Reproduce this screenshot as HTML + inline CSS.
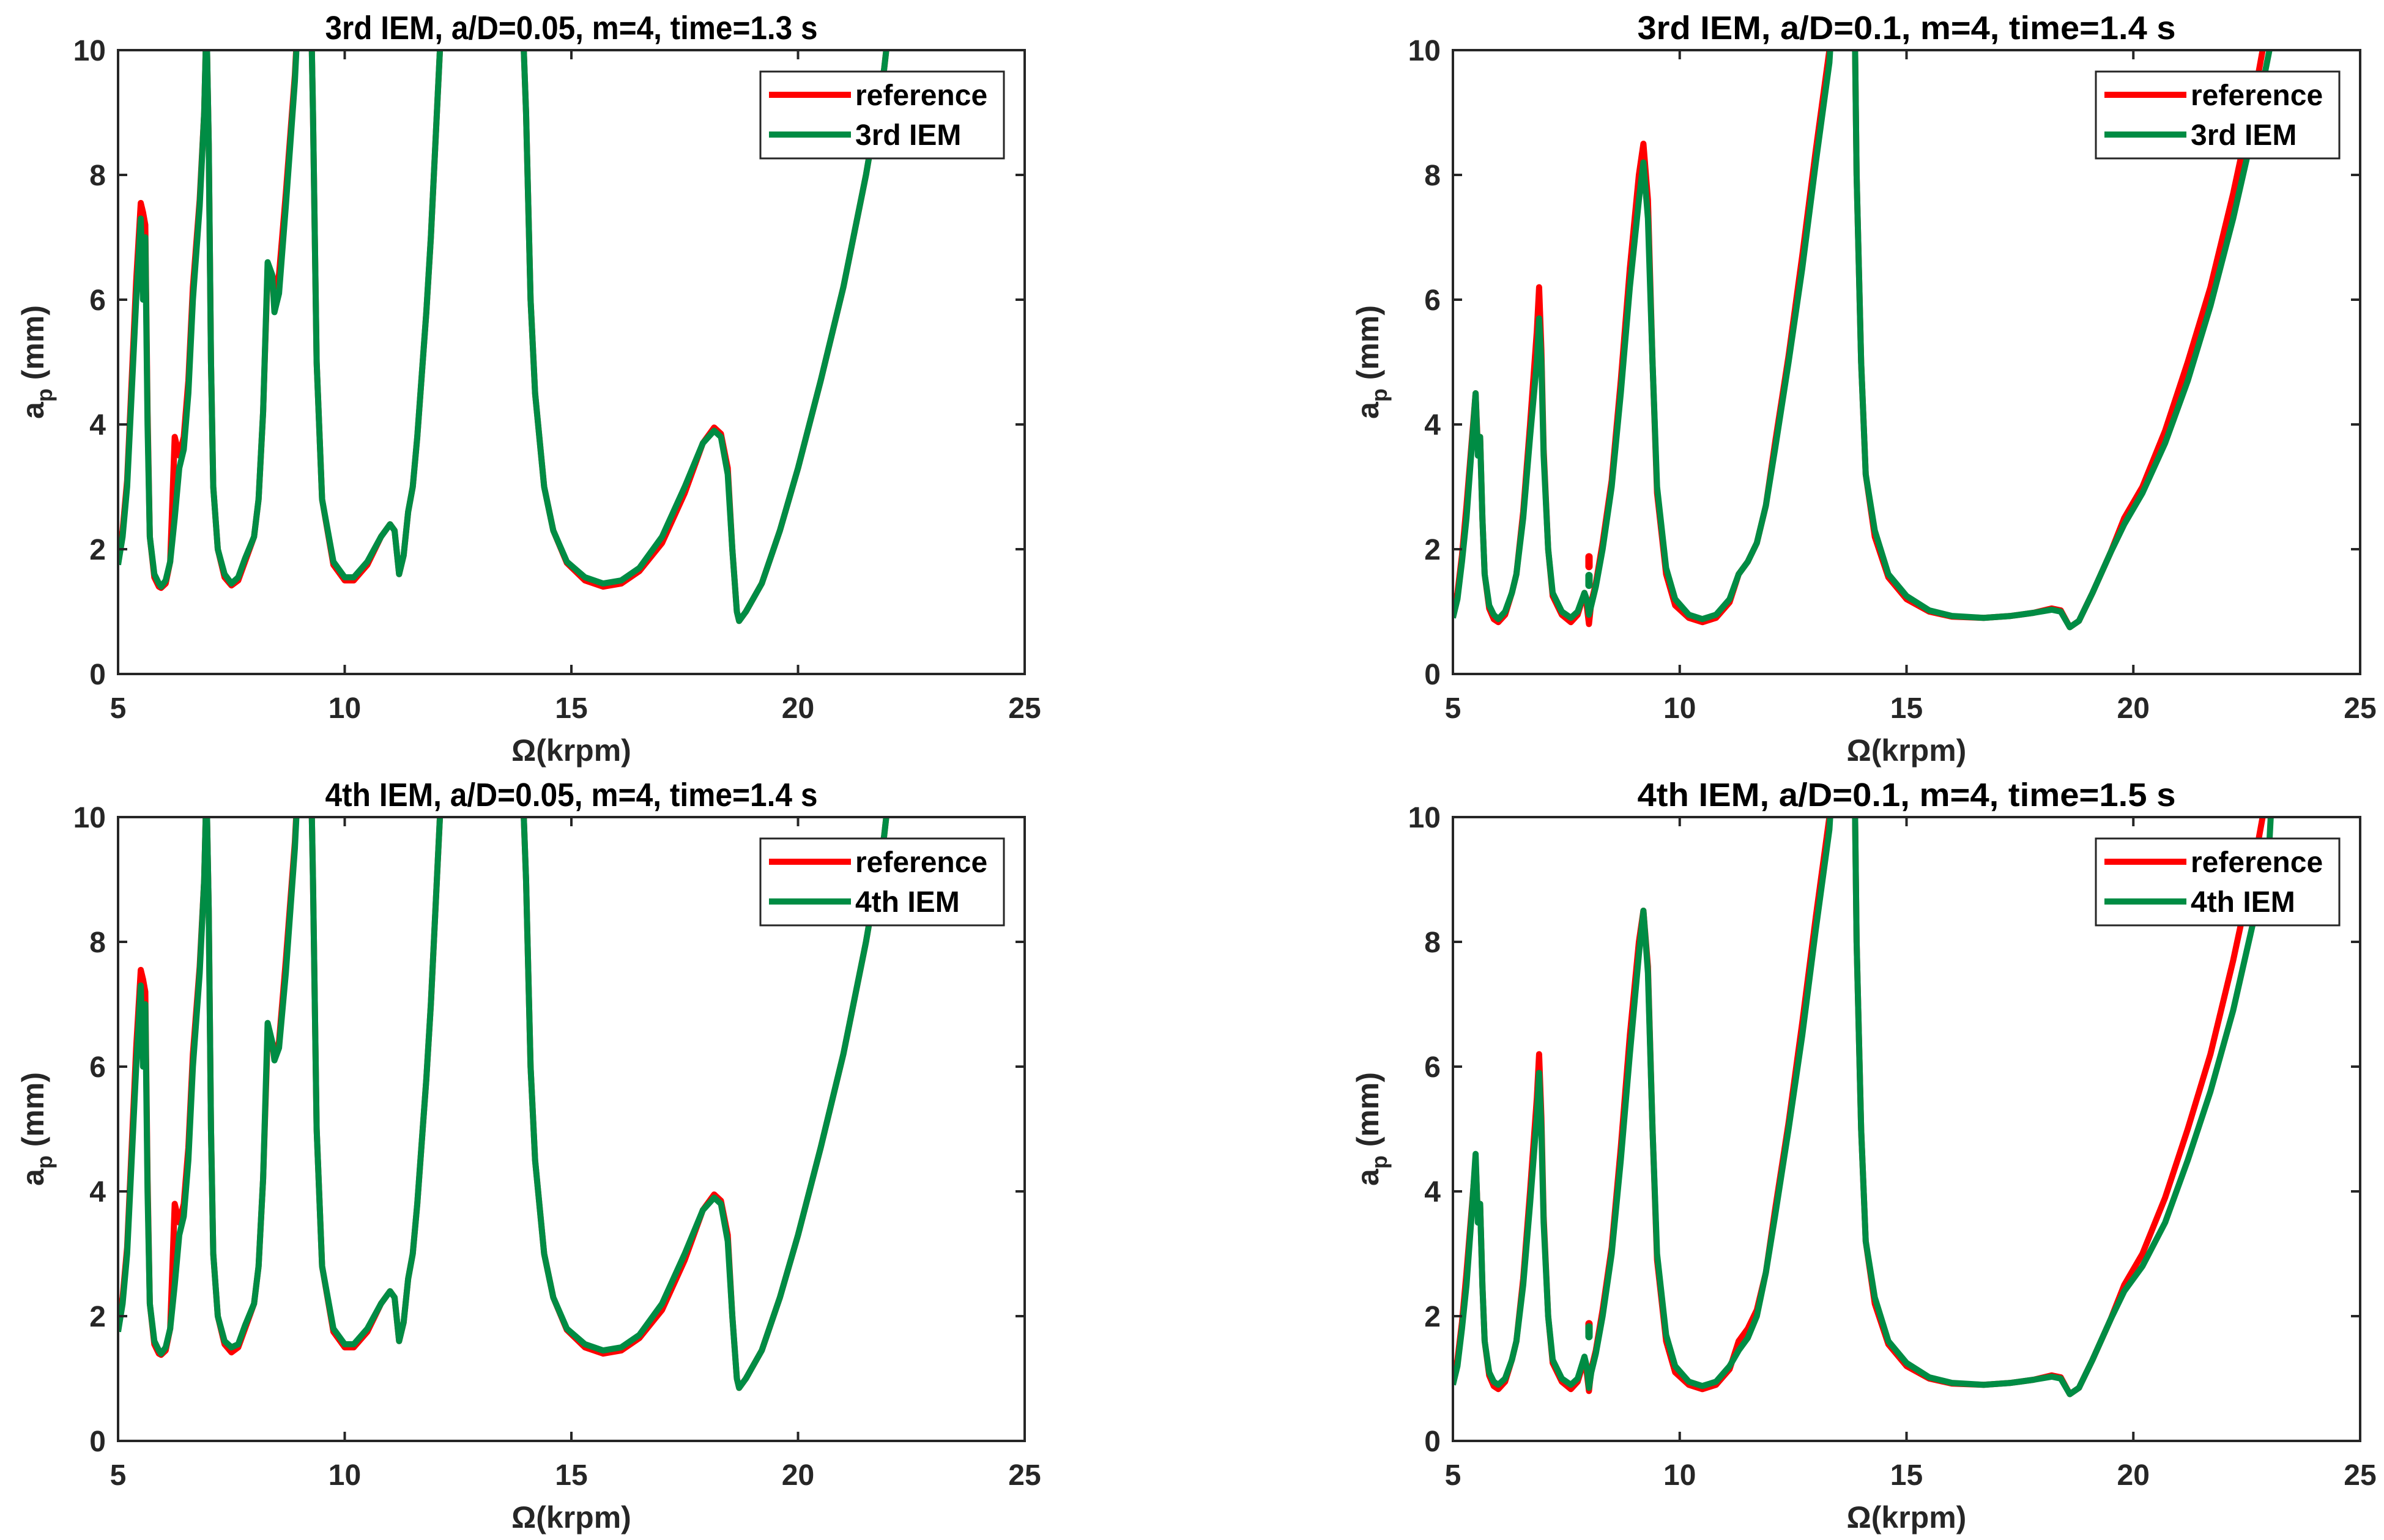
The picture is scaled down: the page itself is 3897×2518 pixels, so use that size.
<!DOCTYPE html>
<html><head><meta charset="utf-8"><style>
html,body{margin:0;padding:0;background:#fff;}
svg{display:block;font-family:"Liberation Sans",sans-serif;font-weight:bold;}
</style></head>
<body>
<svg id="fig" width="3897" height="2518" viewBox="0 0 3897 2518" xmlns="http://www.w3.org/2000/svg"></svg>
<script>
// ---- data (x in krpm, y in mm) ----
const xTicks = [5, 10, 15, 20, 25];
const yTicks = [0, 2, 4, 6, 8, 10];

const xA = [5.0,5.1,5.2,5.3,5.4,5.5,5.55,5.6,5.65,5.7,5.8,5.9,5.95,6.05,6.15,6.25,6.35,6.45,6.55,6.65,6.8,6.9,6.95,7.0,7.05,7.1,7.2,7.35,7.5,7.65,7.8,8.0,8.1,8.2,8.3,8.4,8.45,8.55,8.7,8.9,9.0,
 9.25,9.3,9.38,9.5,9.75,10,10.2,10.5,10.8,11.0,11.1,11.2,11.3,11.4,11.5,11.6,11.7,11.8,11.9,12.0,12.1,12.2,
 13.9,14.0,14.1,14.2,14.4,14.6,14.9,15.3,15.7,16.1,16.5,17,17.5,17.9,18.15,18.3,18.45,18.55,18.65,18.7,18.85,19.2,19.6,20,20.5,21,21.5,21.9,22.1];
const gA3 = [1.75,2.2,3.0,4.5,6.0,7.3,6.0,7.0,4.0,2.2,1.6,1.45,1.4,1.5,1.8,2.5,3.3,3.6,4.5,6.0,7.5,9.0,10.5,8.5,5,3,2.0,1.6,1.45,1.55,1.85,2.2,2.8,4.2,6.6,6.4,5.8,6.1,7.5,9.5,11,
 11,9,5,2.8,1.8,1.55,1.55,1.8,2.2,2.4,2.3,1.6,1.9,2.6,3.0,3.8,4.8,5.8,7,8.5,10,11,
 11,9.0,6,4.5,3.0,2.3,1.8,1.55,1.45,1.5,1.7,2.2,3.0,3.7,3.9,3.8,3.2,2.0,1.0,0.85,1.0,1.45,2.3,3.3,4.7,6.2,8.0,9.7,11];
const rA = [1.85,2.3,3.1,4.7,6.3,7.55,7.4,7.2,4.2,2.2,1.55,1.4,1.38,1.45,1.8,3.8,3.5,3.8,4.7,6.2,7.6,9.0,10.5,8.5,5,3,2.0,1.55,1.42,1.5,1.8,2.2,2.8,4.2,6.5,6.3,6.2,6.4,7.7,9.6,11,
 11,9,5,2.8,1.75,1.5,1.5,1.75,2.2,2.4,2.3,1.6,1.9,2.6,3.0,3.8,4.8,5.8,7,8.5,10,11,
 11,9.0,6,4.5,3.0,2.3,1.78,1.5,1.4,1.45,1.65,2.1,2.9,3.7,3.95,3.85,3.3,2.0,1.0,0.85,1.0,1.45,2.3,3.3,4.7,6.2,8.0,9.7,11];
const gA4 = [1.75,2.2,3.0,4.5,6.0,7.3,6.0,7.0,4.0,2.2,1.6,1.45,1.4,1.5,1.8,2.5,3.3,3.6,4.5,6.0,7.5,9.0,10.5,8.5,5,3,2.0,1.6,1.5,1.55,1.85,2.2,2.8,4.2,6.7,6.4,6.1,6.3,7.5,9.5,11,
 11,9,5,2.8,1.8,1.55,1.55,1.8,2.2,2.4,2.3,1.6,1.9,2.6,3.0,3.8,4.8,5.8,7,8.5,10,11,
 11,9.0,6,4.5,3.0,2.3,1.8,1.55,1.45,1.5,1.7,2.2,3.0,3.7,3.9,3.8,3.2,2.0,1.0,0.85,1.0,1.45,2.3,3.3,4.7,6.2,8.0,9.7,11];

const xB = [5.0,5.1,5.2,5.3,5.4,5.5,5.55,5.6,5.65,5.7,5.8,5.9,6.0,6.15,6.3,6.4,6.55,6.7,6.85,6.9,6.95,7.0,7.1,7.2,7.4,7.6,7.75,7.9,7.95,8.0,8.05,8.15,8.3,8.5,8.7,8.9,9.1,9.2,9.3,9.4,9.5,9.7,9.9,10.2,10.5,10.8,11.1,11.3,11.5,11.7,11.9,12.1,12.4,12.7,13.0,13.3,13.4,
 13.85,13.9,14.0,14.1,14.3,14.6,15.0,15.5,16,16.7,17.3,17.8,18.2,18.4,18.6,18.8,19.1,19.5,19.8,20.2,20.7,21.2,21.7,22.2,22.7,23.0,23.1];
const gB3 = [0.9,1.2,1.8,2.5,3.5,4.5,3.5,3.8,2.5,1.6,1.1,0.95,0.88,1.0,1.3,1.6,2.5,3.8,5.0,5.7,5.0,3.5,2.0,1.3,1.0,0.9,1.0,1.3,1.2,0.95,1.1,1.4,2.0,3.0,4.5,6.2,7.6,8.2,7.3,5,3.0,1.7,1.2,0.95,0.88,0.95,1.2,1.6,1.8,2.1,2.7,3.6,5.0,6.5,8.2,9.8,11,
 11,8,5,3.2,2.3,1.6,1.25,1.02,0.93,0.9,0.93,0.98,1.03,1.0,0.75,0.85,1.3,1.95,2.4,2.9,3.7,4.7,5.9,7.3,8.9,10,11];
const rB = [0.95,1.3,1.9,2.7,3.6,4.5,3.6,3.8,2.5,1.6,1.05,0.88,0.83,0.95,1.3,1.6,2.6,4.0,5.5,6.2,5.2,3.6,2.0,1.25,0.95,0.83,0.95,1.3,1.1,0.8,1.15,1.45,2.1,3.1,4.7,6.5,8.0,8.5,7.6,5,2.9,1.6,1.1,0.9,0.83,0.9,1.15,1.6,1.8,2.1,2.7,3.7,5.1,6.7,8.4,10,11,
 11,8,5,3.2,2.2,1.55,1.2,1.0,0.92,0.9,0.93,0.98,1.05,1.02,0.75,0.85,1.3,1.95,2.5,3.0,3.9,5.0,6.2,7.7,9.4,10.6,11];
const gB4 = [0.9,1.2,1.8,2.5,3.5,4.6,3.5,3.8,2.5,1.6,1.1,0.95,0.9,1.0,1.3,1.6,2.5,3.8,5.2,5.9,5.0,3.5,2.0,1.3,1.0,0.9,1.0,1.35,1.2,0.85,1.1,1.4,2.0,3.0,4.5,6.2,7.8,8.5,7.5,5,3.0,1.7,1.2,0.95,0.88,0.95,1.2,1.45,1.65,2.0,2.7,3.6,5.0,6.5,8.2,9.8,11,
 11,8,5,3.2,2.3,1.6,1.25,1.02,0.93,0.9,0.93,0.98,1.03,1.0,0.75,0.85,1.3,1.95,2.4,2.8,3.5,4.5,5.6,6.9,8.5,9.6,11];
// isolated dots near 8 krpm
const dotX = 8.0;
const dotRB3 = 1.8, dotGB3 = 1.5, dotRB4 = 1.8, dotGB4 = 1.75;

const titles = ["3rd IEM, a/D=0.05, m=4, time=1.3 s","3rd IEM, a/D=0.1, m=4, time=1.4 s","4th IEM, a/D=0.05, m=4, time=1.4 s","4th IEM, a/D=0.1, m=4, time=1.5 s"];
const legendNames = ["3rd IEM","3rd IEM","4th IEM","4th IEM"];

// ---- layout ----
const NS = "http://www.w3.org/2000/svg";
const svg = document.getElementById("fig");
const panels = [
 {L:193,R:1675,T:82,B:1102,x:xA,r:rA,g:gA3,dots:null},
 {L:2375,R:3858,T:82,B:1102,x:xB,r:rB,g:gB3,dots:[dotRB3,dotGB3]},
 {L:193,R:1675,T:1336,B:2356,x:xA,r:rA,g:gA4,dots:null},
 {L:2375,R:3858,T:1336,B:2356,x:xB,r:rB,g:gB4,dots:[dotRB4,dotGB4]}
];
function mk(tag, attrs, parent){const e=document.createElementNS(NS,tag);for(const k in attrs)e.setAttribute(k,attrs[k]);(parent||svg).appendChild(e);return e;}

panels.forEach((p,i)=>{
 const sx=v=>p.L+(v-5)/20*(p.R-p.L);
 const sy=v=>p.B-v/10*(p.B-p.T);
 const g=mk("g",{});
 
 
 const cp=mk("clipPath",{id:"clip"+i},g);
 mk("rect",{x:p.L,y:p.T,width:p.R-p.L,height:p.B-p.T},cp);
 // title
 const t=mk("text",{x:(p.L+p.R)/2,y:p.T-18,"text-anchor":"middle","font-size":54,textLength:(i%2?880:805),lengthAdjust:"spacingAndGlyphs",fill:"#000"},g);
 t.textContent=titles[i];
 
 
 // series
 const path=(ys)=>ys.map((v,k)=>(k?"L":"M")+sx(p.x[k]).toFixed(1)+","+sy(v).toFixed(1)).join("");
 const cg=mk("g",{"clip-path":"url(#clip"+i+")"},g);
 const rl=mk("path",{d:path(p.r),fill:"none",stroke:"#ff0000","stroke-width":10,"stroke-linejoin":"round"},cg);
 
 
 const gl=mk("path",{d:path(p.g),fill:"none",stroke:"#008c44","stroke-width":10,"stroke-linejoin":"round"},cg);
 
 
 if(p.dots){
  const d1=mk("line",{x1:sx(dotX),x2:sx(dotX),y1:sy(p.dots[0])-8,y2:sy(p.dots[0])+8,stroke:"#ff0000","stroke-width":12,"stroke-linecap":"round"},cg);
  
  
  const d2=mk("line",{x1:sx(dotX),x2:sx(dotX),y1:sy(p.dots[1])-8,y2:sy(p.dots[1])+8,stroke:"#008c44","stroke-width":12,"stroke-linecap":"round"},cg);
  
  
 }
 // axes box
 const box=mk("rect",{x:p.L,y:p.T,width:p.R-p.L,height:p.B-p.T,fill:"none",stroke:"#262626","stroke-width":4},g);
 
 
 xTicks.forEach(v=>{
  mk("line",{x1:sx(v),x2:sx(v),y1:p.B,y2:p.B-15,stroke:"#262626","stroke-width":4},g);
  mk("line",{x1:sx(v),x2:sx(v),y1:p.T,y2:p.T+15,stroke:"#262626","stroke-width":4},g);
  const tl=mk("text",{x:sx(v),y:p.B+72,"text-anchor":"middle","font-size":48,fill:"#262626"},g);
  tl.textContent=v;
  
  
 });
 yTicks.forEach(v=>{
  mk("line",{x1:p.L,x2:p.L+15,y1:sy(v),y2:sy(v),stroke:"#262626","stroke-width":4},g);
  mk("line",{x1:p.R,x2:p.R-15,y1:sy(v),y2:sy(v),stroke:"#262626","stroke-width":4},g);
  const tl=mk("text",{x:p.L-20,y:sy(v)+17,"text-anchor":"end","font-size":48,fill:"#262626"},g);
  tl.textContent=v;
  
  
 });
 const xl=mk("text",{x:(p.L+p.R)/2,y:p.B+142,"text-anchor":"middle","font-size":50,fill:"#262626"},g);
 xl.textContent="Ω(krpm)";
 
 
 const yl=mk("text",{transform:"translate("+(p.L-122)+","+((p.T+p.B)/2)+") rotate(-90)","text-anchor":"middle","font-size":50,fill:"#262626"},g);
 yl.innerHTML='a<tspan font-size="36" dy="14">p</tspan><tspan dy="-14"> (mm)</tspan>';
 
 
 // legend
 const lx=p.R-432, ly=p.T+35;
 const lg=mk("g",{},g);
 
 
 mk("rect",{x:lx,y:ly,width:398,height:142,fill:"#fff",stroke:"#262626","stroke-width":3},lg);
 mk("line",{x1:lx+14,x2:lx+148,y1:ly+38,y2:ly+38,stroke:"#ff0000","stroke-width":10},lg);
 mk("line",{x1:lx+14,x2:lx+148,y1:ly+103,y2:ly+103,stroke:"#008c44","stroke-width":10},lg);
 const e1=mk("text",{x:lx+155,y:ly+55,"font-size":48,fill:"#000"},lg);
 e1.textContent="reference";
 
 
 const e2=mk("text",{x:lx+155,y:ly+120,"font-size":48,fill:"#000"},lg);
 e2.textContent=legendNames[i];
 
 
});
</script>
</body></html>
